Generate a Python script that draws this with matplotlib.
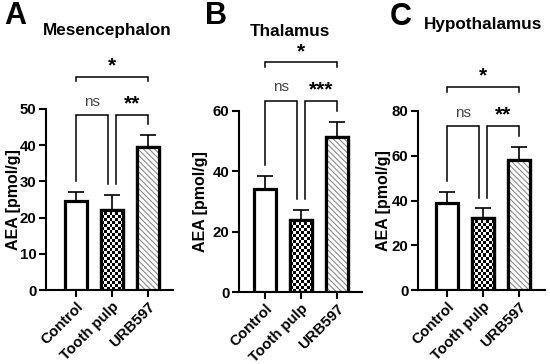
import numpy as np
import matplotlib
matplotlib.use("Agg")
import matplotlib.pyplot as plt

plt.rcParams["font.family"] = ["Liberation Sans", "DejaVu Sans"]
plt.rcParams["hatch.linewidth"] = 0.8

groups = ["Control", "Tooth pulp", "URB597"]

titles = ["Mesencephalon", "Thalamus", "Hypothalamus"]
letters = ["A", "B", "C"]

# mean and upper end of SEM for each region
means_mes = [24.5, 22.2, 39.5]
tops_mes = [27.0, 26.2, 42.8]
means_tha = [34.0, 24.0, 51.5]
tops_tha = [38.5, 27.2, 56.3]
means_hyp = [38.7, 32.3, 58.0]
tops_hyp = [43.7, 36.5, 64.0]

ymax = [50, 60, 80]
yticks = [[0, 10, 20, 30, 40, 50], [0, 20, 40, 60], [0, 20, 40, 60, 80]]

# significance labels: (control vs tooth, tooth vs URB, control vs URB)
sig_labels = [["ns", "**", "*"], ["ns", "***", "*"], ["ns", "**", "*"]]

# bracket heights in data units: lower bracket, upper bracket
lower_y = [48.3, 63.3, 73.3]
upper_y = [58.9, 76.1, 90.7]

# axes placement (pixels in a 550x364 figure): left, bottom(from top), right, top(from top)
boxes = [(46, 290, 173, 109), (239, 292, 362, 111), (418, 290, 545, 111)]
xlims = [(-0.83, 2.69), (-0.72, 2.69), (-0.8, 2.72)]
title_pos = [(107, 30), (290, 31), (483, 25)]
letter_pos = [(15, 16), (216, 16), (401, 17)]
ylabel_x = [21, 208, 391]

W, H = 550, 364
fig = plt.figure(figsize=(5.5, 3.64), dpi=100)

means_all = [means_mes, means_tha, means_hyp]
tops_all = [tops_mes, tops_tha, tops_hyp]

x = np.arange(len(groups))

for i in range(3):
    l, b, r, t = boxes[i]
    ax = fig.add_axes([l / W, 1 - b / H, (r - l) / W, (b - t) / H])
    means = means_all[i]
    tops = tops_all[i]
    errs = [tops[k] - means[k] for k in range(3)]

    bars = ax.bar(x, means, width=0.62, color="white", edgecolor="black",
                  linewidth=2.3, zorder=3)
    # hatch for URB597 in grey
    ax.bar(x[2], means[2], width=0.62, color="white", edgecolor="#8c8c8c",
           hatch="\\\\\\\\\\\\", linewidth=0, zorder=3.5)
    ax.bar(x[2], means[2], width=0.62, color="none", edgecolor="black",
           linewidth=2.3, zorder=4)
    # checkerboard (about 3 px squares) for tooth pulp
    bp = bars[1]
    px_per_unit = (b - t) / ymax[i]
    nrows = max(2, int(round(means[1] * px_per_unit / 3.0)))
    checker = (np.indices((nrows, 8)).sum(axis=0) % 2).astype(float)
    im = ax.imshow(checker, cmap="gray", interpolation="nearest", aspect="auto",
                   extent=(bp.get_x(), bp.get_x() + bp.get_width(), 0, means[1]),
                   zorder=3.5)
    im.set_clip_path(bp)
    ax.bar(x[1], means[1], width=0.62, color="none", edgecolor="black",
           linewidth=2.3, zorder=4)

    ax.errorbar(x, means, yerr=[[0, 0, 0], errs], fmt="none", ecolor="black",
                elinewidth=1.2, capsize=6, capthick=1.2, zorder=2)

    ax.set_xlim(*xlims[i])
    ax.set_ylim(0, ymax[i])
    ax.set_yticks(yticks[i])
    ax.set_xticks(x)
    ax.set_xticklabels(groups, rotation=45, ha="right", rotation_mode="anchor",
                       fontweight="bold", fontsize=10.8)
    for lab in ax.get_yticklabels():
        lab.set_fontweight("bold")
        lab.set_fontsize(10.8)
    ax.tick_params(width=1.5, length=5, pad=2)
    ax.spines["top"].set_visible(False)
    ax.spines["right"].set_visible(False)
    ax.spines["left"].set_linewidth(1.5)
    ax.spines["bottom"].set_linewidth(1.5)
    ax.set_ylabel("AEA [pmol/g]", fontweight="bold", fontsize=11.5)
    ax.yaxis.set_label_coords((ylabel_x[i] - l) / (r - l), 0.5)

    # significance brackets
    ym = ymax[i]
    gap = 0.04 * ym
    lw = 1.1
    lo = lower_y[i]
    up = upper_y[i]
    # control vs tooth pulp
    ax.plot([0, 0, 0.89, 0.89], [tops[0] + 0.06 * ym, lo, lo, tops[1] + 0.06 * ym],
            color="black", lw=lw, clip_on=False, solid_joinstyle="miter")
    # tooth pulp vs URB597
    ax.plot([1.11, 1.11, 2, 2], [tops[1] + 0.06 * ym, lo, lo, tops[2] + 0.06 * ym],
            color="black", lw=lw, clip_on=False, solid_joinstyle="miter")
    # control vs URB597
    ax.plot([0, 0, 2, 2], [up - gap * 0.65, up, up, up - gap * 0.65],
            color="black", lw=lw, clip_on=False, solid_joinstyle="miter")
    ax.text(0.445, lo + 0.075 * ym, sig_labels[i][0], ha="center", va="center",
            fontsize=11, color="#444444")
    ax.text(1.555, lo + 0.06 * ym, sig_labels[i][1], ha="center", va="center",
            fontsize=15, fontweight="bold", color="black")
    ax.text(1.0, up + 0.06 * ym, sig_labels[i][2], ha="center", va="center",
            fontsize=15, fontweight="bold", color="black")

    fig.text(title_pos[i][0] / W, 1 - title_pos[i][1] / H, titles[i],
             ha="center", va="center", fontsize=12.3, fontweight="bold")
    fig.text(letter_pos[i][0] / W, 1 - letter_pos[i][1] / H, letters[i],
             ha="center", va="center", fontsize=22, fontweight="bold")

fig.savefig("out.png", dpi=100)
